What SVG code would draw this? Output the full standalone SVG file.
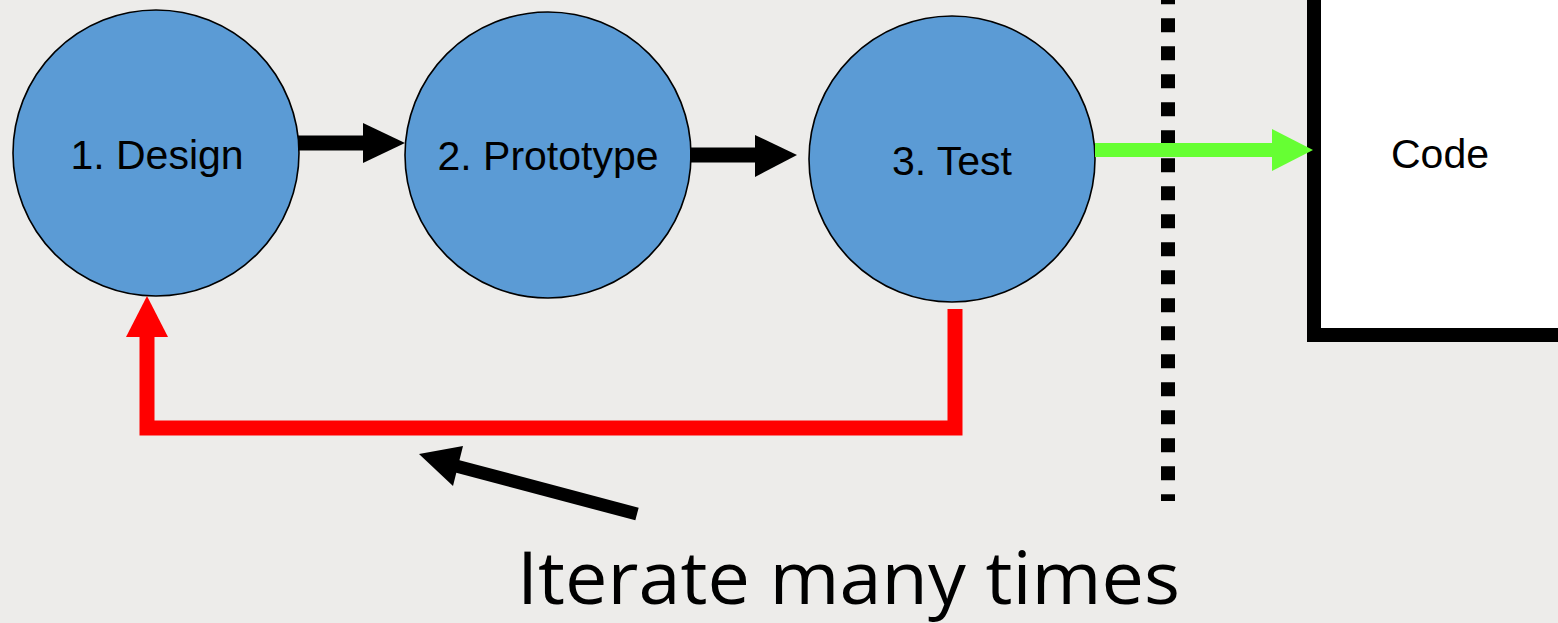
<svg xmlns="http://www.w3.org/2000/svg" width="1558" height="623" viewBox="0 0 1558 623">
  <style>
    .step { fill: #5B9BD5; stroke: #000; stroke-width: 1.6; }
    .lbl { font-family: "Liberation Sans", Arial, sans-serif; font-size: 41px; fill: #000; text-anchor: middle; }
    .flow { stroke: #000; stroke-width: 15; fill: none; }
  </style>
  <rect width="1558" height="623" fill="#EDECEA"/>

  <!-- release boundary -->
  <line x1="1168" y1="-9.7" x2="1168" y2="501" stroke="#000" stroke-width="14" stroke-dasharray="14 14"/>

  <g id="design">
    <circle class="step" cx="156" cy="153" r="143"/>
    <text class="lbl" x="157" y="169">1. Design</text>
  </g>
  <g id="prototype">
    <circle class="step" cx="548" cy="155" r="143"/>
    <text class="lbl" x="548" y="170">2. Prototype</text>
  </g>
  <g id="test">
    <circle class="step" cx="952" cy="159" r="143"/>
    <text class="lbl" x="952" y="175">3. Test</text>
  </g>
  <g id="code">
    <rect x="1314" y="-20" width="270" height="355" fill="#FFF" stroke="#000" stroke-width="14"/>
    <text class="lbl" x="1440" y="168">Code</text>
  </g>

  <g id="connectors">
    <!-- design to prototype -->
    <line class="flow" x1="298" y1="143" x2="365" y2="143"/>
    <polygon points="363,123 405,143 363,163" fill="#000"/>
    <!-- prototype to test -->
    <line class="flow" x1="690" y1="155" x2="757" y2="155"/>
    <polygon points="755,135 797,155 755,177" fill="#000"/>
    <!-- test to code -->
    <line x1="1095" y1="150" x2="1274" y2="150" stroke="#66FF33" stroke-width="14"/>
    <polygon points="1272,129 1313,150 1272,171" fill="#66FF33"/>
    <!-- feedback loop -->
    <path d="M955,309 V428 H147 V335" fill="none" stroke="#FF0000" stroke-width="15" stroke-linejoin="miter"/>
    <polygon points="126,337 147,296 168,337" fill="#FF0000"/>
    <!-- pointer to loop -->
    <line x1="637" y1="514" x2="456" y2="466" stroke="#000" stroke-width="13"/>
    <polygon points="419,454 463,446 453,486" fill="#000"/>
  </g>

  <text x="517" y="604" font-family="'Open Sans', 'Noto Sans', sans-serif" font-size="74" textLength="663" lengthAdjust="spacingAndGlyphs" fill="#000">Iterate many times</text>
</svg>
